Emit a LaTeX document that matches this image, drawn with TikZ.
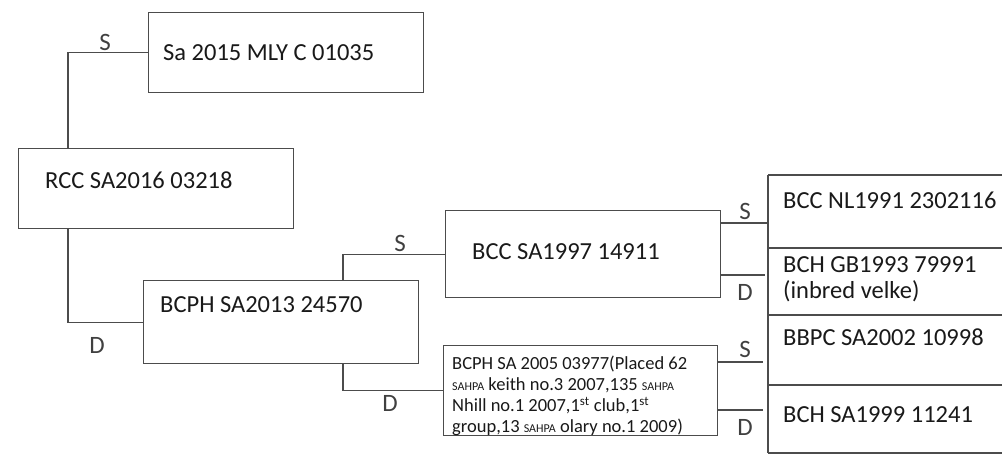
\documentclass[tikz,border=0pt]{standalone}
\usepackage{fontspec}
\setmainfont{Carlito}
\usetikzlibrary{calc,positioning}

\tikzset{
  box/.style={draw=black!70, line width=1.1pt, rectangle, inner sep=0pt, anchor=north west},
  regno/.style={anchor=west, inner sep=0pt, font=\fontsize{24.5}{26}\selectfont, text=black!90},
  sd/.style={inner sep=0pt, font=\fontsize{25}{25}\selectfont, text=black!75},
  wire/.style={draw=black!70, line width=1.1pt}
}
\newcommand{\sahpa}{{\fontsize{12}{12}\selectfont SAHPA}}

\begin{document}
\begin{tikzpicture}[x=1pt,y=-1pt]
\useasboundingbox (0,0) rectangle (1002,456);
% Boxes
\node[box, minimum width=275, minimum height=80] (sire) at (148,12) {};
\node[box, minimum width=275, minimum height=80] (rcc) at (18,148) {};
\node[box, minimum width=275, minimum height=83] (dam) at (143,280) {};
\node[box, minimum width=275, minimum height=87] (gsire) at (445,210) {};
\node[box, minimum width=274, minimum height=90] (gdam) at (443,345) {};

% Names
\node[regno] (sire-t) at (163,53) {Sa 2015 MLY C 01035};
\node[regno] (rcc-t) at (45,180) {RCC SA2016 03218};
\node[regno] (dam-t) at (160,305) {BCPH SA2013 24570};
\node[regno] (gsire-t) at (472,252) {BCC SA1997 14911};
\node[regno, font=\fontsize{18.5}{21}\selectfont, align=left] (gdam-t) at (452,396)
  {BCPH SA 2005 03977(Placed 62\\ \sahpa{} keith no.3 2007,135 \sahpa\\
   Nhill no.1 2007,1\textsuperscript{st} club,1\textsuperscript{st}\\
   group,13 \sahpa{} olary no.1 2009)};

% Great-grandparents
\foreach \y in {175,248,315,385,453} \draw[wire] (768,\y) -- (1002,\y);
\draw[wire] (768,175) -- (768,453);
\node[regno] (ggs1) at (783,200) {BCC NL1991 2302116};
\node[regno, align=left] (ggd1) at (783,279) {BCH GB1993 79991\\(inbred velke)};
\node[regno] (ggs2) at (783,337) {BBPC SA2002 10998};
\node[regno] (ggd2) at (783,415) {BCH SA1999 11241};

% Connectors
\coordinate (s3) at (768,223);
\coordinate (d3) at (765,275);
\coordinate (s4) at (763,362);
\coordinate (d4) at (763,410);
\draw[wire] (sire.west) -| ($(rcc.north west)+(50,0)$);
\draw[wire] ($(rcc.south west)+(50,0)$) |- (dam.west);
\draw[wire] ($(dam.north west)+(200,0)$) |- (gsire.west);
\draw[wire] ($(dam.south west)+(200,0)$) |- (gdam.west);
\draw[wire] (gsire.east |- s3) -- (s3);
\draw[wire] (gsire.east |- d3) -- (d3);
\draw[wire] (gdam.east |- s4) -- (s4);
\draw[wire] (gdam.east |- d4) -- (d4);

% S / D labels
\node[sd] (s1) at (105,42) {S};
\node[sd] (d1) at (97,345) {D};
\node[sd] (s2) at (400,243) {S};
\node[sd] (d2) at (390,403) {D};
\node[sd] (s3l) at (745,211) {S};
\node[sd] (d3l) at (745,292) {D};
\node[sd] (s4l) at (745,349) {S};
\node[sd] (d4l) at (745,427) {D};
\end{tikzpicture}
\end{document}
